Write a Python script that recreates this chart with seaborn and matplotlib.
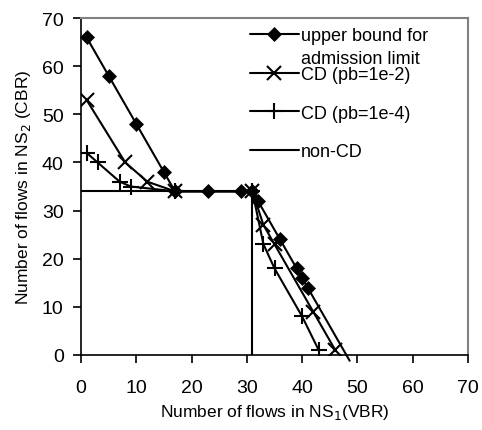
import matplotlib
matplotlib.use("Agg")
import matplotlib.pyplot as plt
import seaborn as sns
import numpy as np

# ---- data ----
ub_x = [1, 5, 10, 15, 17, 23, 29, 31, 32, 36, 39, 40, 41, 48.6]
ub_y = [66, 58, 48, 38, 34, 34, 34, 34, 32, 24, 18, 16, 14, -1.2]
cd2_x = [1, 8, 12, 17, 31, 33, 35, 42, 46]
cd2_y = [53, 40, 36, 34, 34, 27, 23, 9, 1]
cd4_x = [1, 3, 7, 9, 17, 31, 33, 35, 40, 43]
cd4_y = [42, 40, 36, 35, 34, 34, 23, 18, 8, 1]
ncd_x = [0, 31, 31]
ncd_y = [34, 34, 0]

labels = ["upper bound for", "CD (pb=1e-2)", "CD (pb=1e-4)", "non-CD"]
label_extra = "admission limit"
xticks = [0, 10, 20, 30, 40, 50, 60, 70]
yticks = [0, 10, 20, 30, 40, 50, 60, 70]

sns.set_style("white")
plt.rcParams["font.family"] = ["Liberation Sans", "DejaVu Sans"]
plt.rcParams["text.color"] = "black"
plt.rcParams["axes.labelcolor"] = "black"
plt.rcParams["xtick.color"] = "black"
plt.rcParams["ytick.color"] = "black"

fig = plt.figure(figsize=(4.82, 4.31), dpi=100)
ax = fig.add_axes([81/482, (431-356)/431, (468-81)/482, (356-19)/431])

lw = 1.5
common = dict(sort=False, estimator=None, ax=ax, color="black", linewidth=lw,
              linestyle="-", markeredgecolor="black", markerfacecolor="black")
sns.lineplot(x=ub_x, y=ub_y, marker="D", markersize=7, markeredgewidth=0.5,
             markevery=list(range(len(ub_x)-1)), clip_on=False,
             label=labels[0], **common)
sns.lineplot(x=cd2_x, y=cd2_y, marker="x", markersize=10, markeredgewidth=1.5,
             label=labels[1], **common)
sns.lineplot(x=cd4_x, y=cd4_y, marker="+", markersize=11, markeredgewidth=1.5,
             label=labels[2], **common)
sns.lineplot(x=ncd_x, y=ncd_y, label=labels[3], **common)

ax.set_xlim(0, 70)
ax.set_ylim(0, 70)
ax.set_xticks(xticks)
ax.set_yticks(yticks)
ax.tick_params(axis="both", direction="out", length=5.5, width=1.2, color="black",
               labelcolor="black", labelsize=14, left=True, bottom=True)
ax.tick_params(axis="x", pad=12)
ax.tick_params(axis="y", pad=7)
for s in ["top", "right"]:
    ax.spines[s].set_color("#808080")
    ax.spines[s].set_linewidth(1.5)
for s in ["left", "bottom"]:
    ax.spines[s].set_color("black")
    ax.spines[s].set_linewidth(1.2)

ax.set_xlabel("Number of flows in NS$_1$(VBR)", fontsize=12.5, labelpad=4, color="black")
ax.set_ylabel("Number of flows in NS$_2$ (CBR)", fontsize=12.5, labelpad=6, color="black")

leg = ax.legend(loc="upper left", bbox_to_anchor=(0.437, 0.972), frameon=False,
                fontsize=13, handlelength=2.7, handletextpad=0.1,
                labelspacing=1.2, borderpad=0, borderaxespad=0)
for t in leg.get_texts():
    t.set_color("black")

fig.canvas.draw()
t0 = leg.get_texts()[0]
bb = t0.get_window_extent()
fig.text(bb.x0 / fig.bbox.width, (bb.y0 + 3.8 - 22) / fig.bbox.height, label_extra,
         fontsize=13, va="baseline", ha="left", color="black")

fig.savefig("out.png", dpi=100)
